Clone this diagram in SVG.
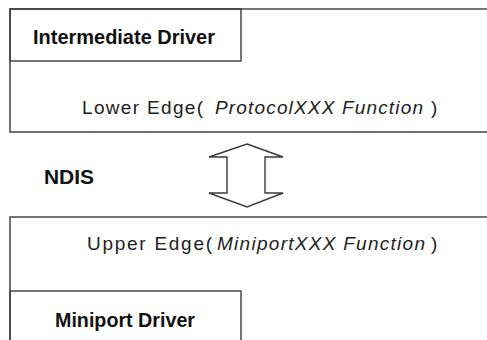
<svg xmlns="http://www.w3.org/2000/svg" width="487" height="340" viewBox="0 0 487 340">
  <style>
    .frame { fill: none; stroke: #3a3a3a; stroke-width: 1.4; }
    .title { font-family: "Liberation Sans", Arial, sans-serif; font-weight: bold; font-size: 20px; fill: #111; }
    .edge { font-family: "Liberation Sans", Arial, sans-serif; font-size: 19px; fill: #222; }
    .fn { font-style: italic; }
  </style>
  <rect width="487" height="340" fill="#fff"/>

  <!-- upper layer: intermediate driver -->
  <g id="intermediate-driver">
    <rect class="frame" x="10" y="9" width="490" height="123"/>
    <rect class="frame" x="10" y="9" width="231" height="52"/>
    <text class="title" x="33" y="44" textLength="182" lengthAdjust="spacingAndGlyphs">Intermediate Driver</text>
    <text class="edge" y="114">
      <tspan x="82" textLength="121" lengthAdjust="spacing">Lower Edge(</tspan>
      <tspan class="fn" x="215" textLength="208" lengthAdjust="spacing">ProtocolXXX Function</tspan>
      <tspan x="431">)</tspan>
    </text>
  </g>

  <!-- interface label -->
  <g id="ndis">
    <text class="title" x="44" y="184" textLength="50" lengthAdjust="spacingAndGlyphs">NDIS</text>
  </g>

  <!-- lower layer: miniport driver -->
  <g id="miniport-driver">
    <rect class="frame" x="10" y="217" width="490" height="140"/>
    <rect class="frame" x="10" y="291" width="231" height="60"/>
    <text class="edge" y="250">
      <tspan x="87" textLength="125" lengthAdjust="spacing">Upper Edge(</tspan>
      <tspan class="fn" x="217" textLength="208" lengthAdjust="spacing">MiniportXXX Function</tspan>
      <tspan x="431">)</tspan>
    </text>
    <text class="title" x="55" y="327" textLength="140" lengthAdjust="spacingAndGlyphs">Miniport Driver</text>
  </g>

  <!-- two-way connector between the layers -->
  <g id="connectors">
    <path class="frame" d="M247,144 L283,157 L265,157 L265,193 L283,193 L247,207 L209,193 L227,193 L227,157 L209,157 Z"/>
  </g>
</svg>
